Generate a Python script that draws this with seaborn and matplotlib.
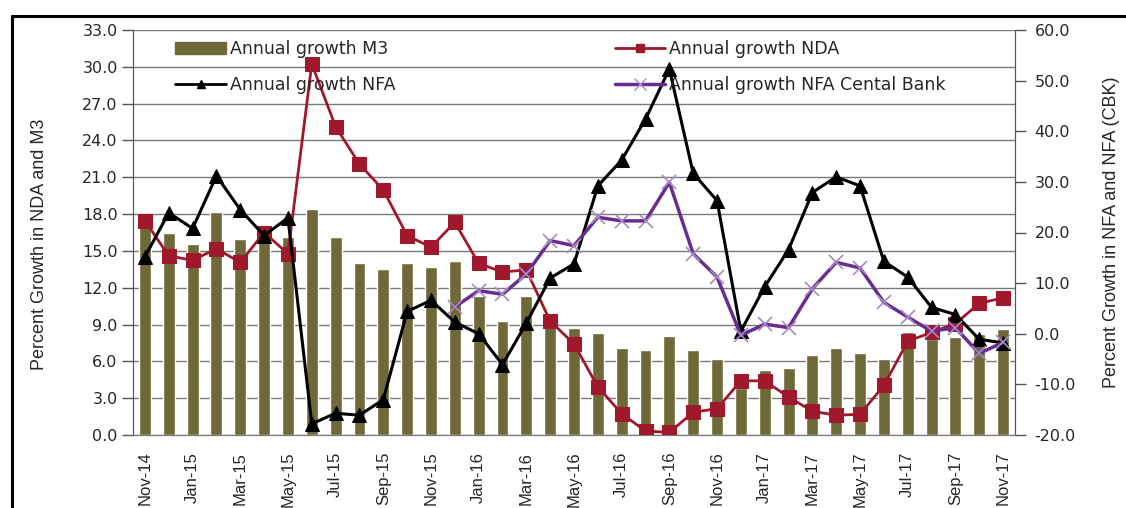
import numpy as np
import pandas as pd
import seaborn as sns
import matplotlib.pyplot as plt
from matplotlib.lines import Line2D

#---------------------

months = ['Nov-14', 'Dec-14', 'Jan-15', 'Feb-15', 'Mar-15', 'Apr-15', 'May-15', 'Jun-15',
          'Jul-15', 'Aug-15', 'Sep-15', 'Oct-15', 'Nov-15', 'Dec-15', 'Jan-16', 'Feb-16',
          'Mar-16', 'Apr-16', 'May-16', 'Jun-16', 'Jul-16', 'Aug-16', 'Sep-16', 'Oct-16',
          'Nov-16', 'Dec-16', 'Jan-17', 'Feb-17', 'Mar-17', 'Apr-17', 'May-17', 'Jun-17',
          'Jul-17', 'Aug-17', 'Sep-17', 'Oct-17', 'Nov-17']

m3 = [17.8, 16.5, 15.6, 18.2, 16.0, 16.5, 16.1, 18.4, 16.1, 14.0, 13.5, 14.0, 13.7,
      14.2, 11.3, 9.3, 11.3, 9.3, 8.7, 8.3, 7.1, 6.9, 8.1, 6.9, 6.2, 3.8, 5.3,
      5.5, 6.5, 7.1, 6.7, 6.2, 8.4, 7.8, 8.0, 8.2, 8.6]

nda = [22.3, 15.4, 14.5, 16.8, 14.1, 20.0, 15.8, 53.3, 40.9, 33.5, 28.4, 19.4, 17.1,
       22.0, 13.9, 12.2, 12.6, 2.5, -2.0, -10.5, -15.8, -19.2, -19.5, -15.5, -14.8, -9.3, -9.3,
       -12.5, -15.3, -16.1, -15.9, -10.2, -1.5, 0.3, 2.0, 6.0, 7.1]

nfa = [15.2, 23.9, 20.8, 31.2, 24.5, 19.4, 22.9, -17.8, -15.7, -16.1, -13.0, 4.4, 6.6,
       2.3, 0.0, -6.1, 2.1, 11.0, 13.8, 29.2, 34.3, 42.4, 52.3, 31.7, 26.3, 0.5, 9.3,
       16.6, 27.9, 31.0, 29.2, 14.3, 11.2, 5.2, 3.8, -1.1, -1.8]

# central bank series only starts in Dec-15
nfa_cb = [np.nan] * 13 + [5.3, 8.5, 7.8, 11.8, 18.4, 17.4, 23.0, 22.3, 22.3, 29.9, 15.8, 11.2,
                          -0.3, 1.9, 1.2, 8.9, 14.1, 13.0, 6.2, 3.3, 0.5, 1.2, -3.9, -1.7]

#---------------------

df = pd.DataFrame({'month': months, 'pos': np.arange(len(months)), 'M3': m3,
                   'NDA': nda, 'NFA': nfa, 'NFA_CB': nfa_cb})

sns.set_style('white')
plt.rcParams['font.family'] = ['DejaVu Sans']

BAR_C = '#6f6838'
NDA_C = '#a0182b'
CB_C = '#6a2d8f'

fig = plt.figure(figsize=(11.26, 5.08), dpi=100)
ax = fig.add_axes([133 / 1126, 1 - 435 / 508, 882 / 1126, 405 / 508])

sns.barplot(data=df, x='pos', y='M3', ax=ax, color=BAR_C, width=0.5, saturation=1)
ax.set_ylim(0, 33)
ax.set_xlim(-0.5, len(months) - 0.5)
ax.set_yticks(np.arange(0, 34, 3))
ax.set_yticklabels([f'{v:.1f}' for v in np.arange(0, 34, 3)], fontsize=11.5)
ax.yaxis.grid(True, color='#7a7a7a', lw=1)
ax.set_axisbelow(True)
ax.set_xlabel('')
ax.set_ylabel('')

ax2 = ax.twinx()
sns.lineplot(data=df, x='pos', y='NDA', ax=ax2, color=NDA_C, lw=2, marker='s',
             markersize=10, markeredgecolor=NDA_C)
sns.lineplot(data=df, x='pos', y='NFA', ax=ax2, color='black', lw=2.2, marker='^',
             markersize=10, markeredgecolor='black')
sns.lineplot(data=df.dropna(subset=['NFA_CB']), x='pos', y='NFA_CB', ax=ax2, color=CB_C,
             lw=2.5, marker='x', markersize=10, markeredgecolor='#a58bc8', markeredgewidth=1.2)
ax2.set_ylim(-20, 60)
ax2.set_yticks(np.arange(-20, 61, 10))
ax2.set_yticklabels([f'{v:.1f}' for v in np.arange(-20, 61, 10)], fontsize=11.5)
ax2.set_xlim(-0.5, len(months) - 0.5)
ax2.set_xlabel('')
ax2.set_ylabel('')

# x axis: labels every other month, tick marks between them
ax.set_xticks(np.arange(1.5, len(months) - 1, 2))
ax.set_xticklabels([])
ax.set_xticks(np.arange(0, len(months), 2), minor=True)
ax.set_xticklabels(months[::2], minor=True, rotation=90, fontsize=12,
                   family='Liberation Sans')
ax.tick_params(axis='x', which='major', length=8, width=1.2, color='#555555', direction='out')
ax.tick_params(axis='x', which='minor', length=0, pad=12)
ax.tick_params(axis='y', length=8, width=1, color='#555555', direction='out', pad=3)
ax2.tick_params(axis='y', length=8, width=1, color='#555555', direction='out', pad=6)

for a in (ax, ax2):
    a.spines['top'].set_visible(False)
    a.spines['left'].set_color('#555555')
    a.spines['right'].set_color('#555555')
    a.spines['bottom'].set_color('#7a7a7a')

# legends in two columns
h_m3 = plt.Rectangle((0, 0), 1, 1, color=BAR_C)
h_nfa = Line2D([], [], color='black', lw=2, marker='^', markersize=6)
h_nda = Line2D([], [], color=NDA_C, lw=2, marker='s', markersize=6)
h_cb = Line2D([], [], color=CB_C, lw=2.5, marker='x', markersize=8, markeredgecolor='#a58bc8')

leg_kw = dict(frameon=False, fontsize=12.5, handlelength=2.9, handletextpad=0.25,
              labelspacing=1.05, borderpad=0, borderaxespad=0, loc='upper left')
leg1 = ax2.legend([h_m3, h_nfa], ['Annual growth M3', 'Annual growth NFA'],
                  bbox_to_anchor=(0.048, 0.975), **leg_kw)
ax2.add_artist(leg1)
ax2.legend([h_nda, h_cb], ['Annual growth NDA', 'Annual growth NFA Cental Bank'],
           bbox_to_anchor=(0.546, 0.975), **leg_kw)

fig.text(40 / 1126, 1 - 244 / 508, 'Percent Growth in NDA and M3', rotation=90,
         ha='center', va='center', fontsize=13, family='Liberation Sans')
fig.text(1112 / 1126, 1 - 232 / 508, 'Percent Growth in NFA and NFA (CBK)', rotation=90,
         ha='center', va='center', fontsize=13, family='Liberation Sans')

# scanned frame around the chart
fig.add_artist(Line2D([12 / 1126, 1], [1 - 16 / 508] * 2, color='black', lw=2.2))
fig.add_artist(Line2D([12 / 1126] * 2, [0, 1 - 16 / 508], color='black', lw=2.2))

fig.savefig('out.png', dpi=100)
